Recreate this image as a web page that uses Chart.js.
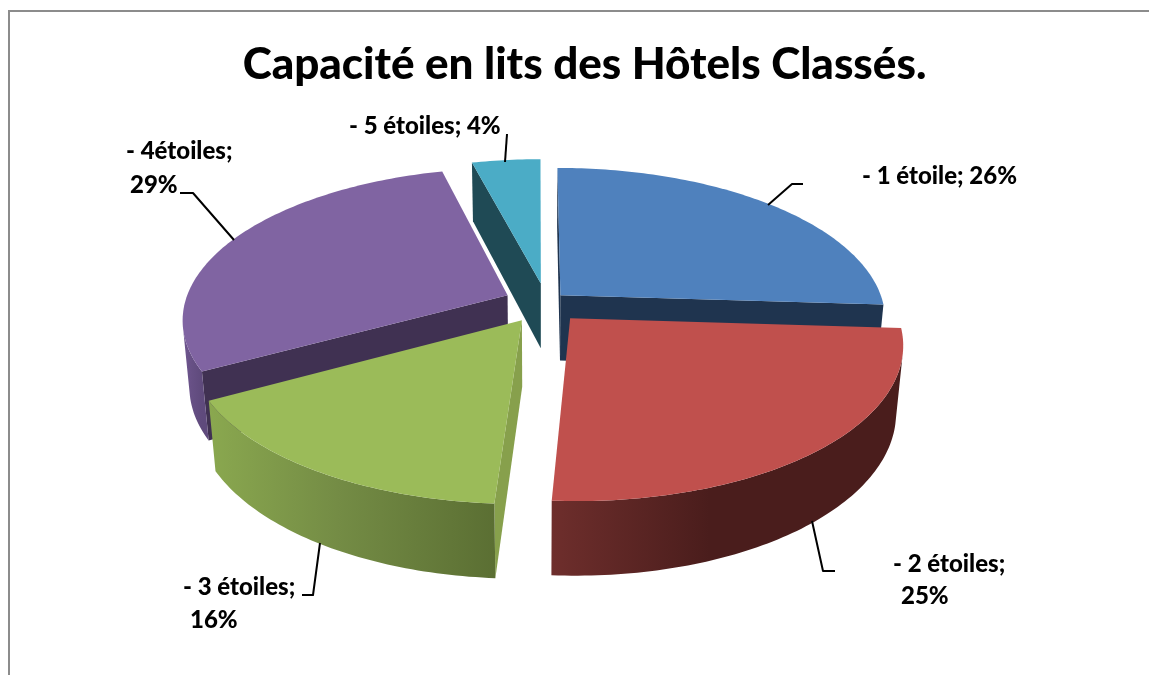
<!DOCTYPE html>
<html lang="fr"><head><meta charset="utf-8">
<script src="https://cdn.jsdelivr.net/npm/chart.js@4/dist/chart.umd.min.js"></script>
<style>
html,body{margin:0;padding:0;background:#fff;overflow:hidden}
#frame{position:absolute;left:8px;top:10px;right:-4px;bottom:-4px;border:2px solid #8c8c8c}
canvas{position:absolute;left:0;top:0}
</style></head><body>
<div id="frame"></div>
<canvas id="c" width="1149" height="675"></canvas>
<script>
const categories = ['- 1 étoile','- 2 étoiles','- 3 étoiles','- 4étoiles','- 5 étoiles'];
const shares = [26,25,16,29,4];
const titleText = 'Capacité en lits des Hôtels Classés.';
const topColors = ['#4f81bd','#c0504d','#9bbb59','#8064a2','#4bacc6'];
const cutColors = ['#1f344f','#6b2c2b','#87a04c','#403152','#1f4a55'];
const wallFrom = ['#2a4d75','#6e2e2c','#8aa84f','#6f5690','#1f4a55'];
const wallMid = ['#25405f','#4a1d1c','#748c45','#675085','#1f4a55'];
const wallTo = ['#1f344f','#4a1d1c','#5b6f33','#5f4a7c','#1f4a55'];
const explodeU = [0.070,0.098,-0.049,-0.095,0.009];
const explodeV = [-0.073,0.08,0.093,-0.073,-0.153];
const labelLines = [['- 1 étoile; 26%'],['- 2 étoiles;','25%'],['- 3 étoiles;','16%'],['- 4étoiles;','29%'],['- 5 étoiles; 4%']];
const labelSpots = [[[862,184]],[[893,572],[901,604]],[[183,595],[190,628]],[[126,159],[130,193]],[[349,134]]];
const leaders = [[[768,205],[792,184],[803,184]],[[812,521],[823,571],[835,571]],[[320,543],[313,595],[302,595]],[[234,240],[193,193],[180,193]],[[505,162],[507,134]]];

// camera model of the tilted pie
const cam = {cx:538,cy:306,F:1840,D:5.68,s:0.4637,c:0.886,H:0.234};
function project(u,v,w){
  const yc=v*cam.s-w*cam.c, zc=cam.D-v*cam.c-w*cam.s;
  return [cam.cx+cam.F*u/zc, cam.cy+cam.F*yc/zc];
}
function faces(nu,nv,u,v){ return nu*(0-u)+nv*(cam.D*cam.c-v)>0; }
function poly(ctx,pts){
  ctx.beginPath();
  pts.forEach((p,i)=>i?ctx.lineTo(p[0],p[1]):ctx.moveTo(p[0],p[1]));
  ctx.closePath();
}
const pie3d = {
  id:'pie3d',
  beforeDatasetsDraw(chart){
    const ctx=chart.ctx, arcs=chart.getDatasetMeta(0).data;
    const slices=arcs.map((arc,i)=>{
      const p=arc.getProps(['startAngle','endAngle'],true);
      const mid=(p.startAngle+p.endAngle)/2;
      return {i,a0:p.startAngle,a1:p.endAngle,mid,ex:explodeU[i],ey:explodeV[i]};
    }).sort((a,b)=>Math.sin(a.mid)-Math.sin(b.mid));
    ctx.save();
    slices.forEach(s=>{
      const {i,a0,a1,ex,ey}=s, H=-cam.H;
      const rim=(a,w)=>project(ex+Math.cos(a),ey+Math.sin(a),w);
      const apexT=project(ex,ey,0), apexB=project(ex,ey,H);
      const cut=(a,sign)=>{
        const nu=Math.cos(a+sign*Math.PI/2), nv=Math.sin(a+sign*Math.PI/2);
        if(!faces(nu,nv,ex,ey)) return;
        poly(ctx,[apexT,rim(a,0),rim(a,H),apexB]);
        ctx.fillStyle=cutColors[i]; ctx.fill();
      };
      cut(a0,-1); cut(a1,1);
      const n=Math.max(2,Math.ceil((a1-a0)/(Math.PI/180)));
      const top=[],bot=[];
      for(let k=0;k<=n;k++){
        const a=a0+(a1-a0)*k/n;
        if(faces(Math.cos(a),Math.sin(a),ex+Math.cos(a),ey+Math.sin(a))){top.push(rim(a,0));bot.push(rim(a,H));}
      }
      if(top.length>1){
        const xs=top.map(p=>p[0]);
        const g=ctx.createLinearGradient(Math.min(...xs),0,Math.max(...xs),0);
        g.addColorStop(0,wallFrom[i]);
        g.addColorStop(0.45,wallMid[i]);
        g.addColorStop(1,wallTo[i]);
        ctx.fillStyle=g;
        poly(ctx,top.concat(bot.reverse())); ctx.fill();
      }
      const face=[apexT];
      for(let k=0;k<=n;k++) face.push(rim(a0+(a1-a0)*k/n,0));
      poly(ctx,face); ctx.fillStyle=topColors[i]; ctx.fill();
    });
    ctx.restore();
    return false;
  },
  afterDraw(chart){
    const ctx=chart.ctx;
    ctx.save();
    ctx.strokeStyle='#000'; ctx.lineWidth=2; ctx.lineJoin='round';
    leaders.forEach(l=>{ctx.beginPath();l.forEach((p,k)=>k?ctx.lineTo(p[0],p[1]):ctx.moveTo(p[0],p[1]));ctx.stroke();});
    ctx.fillStyle='#000'; ctx.font='900 24px Lato'; ctx.textBaseline='alphabetic';
    labelLines.forEach((ls,i)=>ls.forEach((t,k)=>ctx.fillText(t,labelSpots[i][k][0],labelSpots[i][k][1])));
    ctx.restore();
  }
};
new Chart(document.getElementById('c'),{
  type:'pie',
  data:{labels:categories,datasets:[{data:shares,backgroundColor:topColors,borderWidth:0}]},
  options:{
    responsive:false,animation:false,
    layout:{padding:{left:20,top:0}},
    plugins:{
      legend:{display:false},tooltip:{enabled:false},
      title:{display:true,text:titleText,fullSize:false,color:'#000',font:{family:'Lato',size:44,weight:'900'},padding:{top:38,bottom:10}}
    }
  },
  plugins:[pie3d]
});
</script>
</body></html>
